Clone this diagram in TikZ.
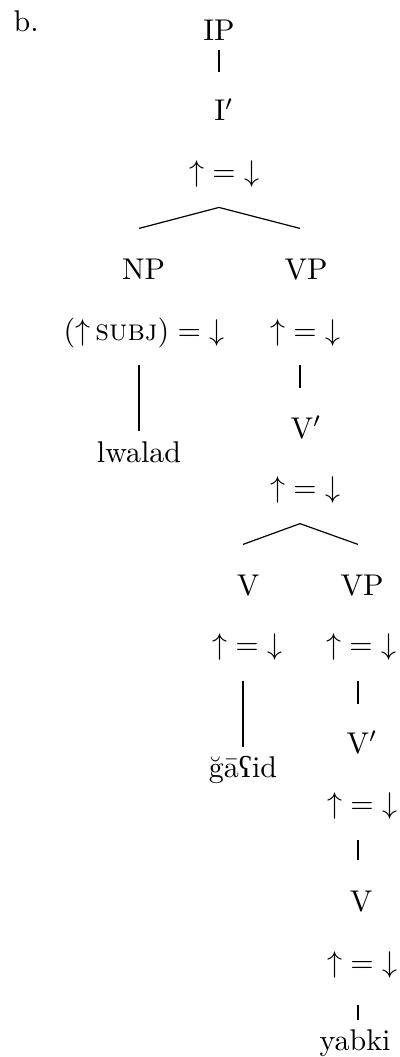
\documentclass[tikz,border=0pt]{standalone}
\usepackage{fontspec}
\newfontfamily\ipafont{Liberation Serif}
\usetikzlibrary{calc}
\newcommand\updn{${\uparrow}={\downarrow}$}
\begin{document}
\begin{tikzpicture}[x=0.33333pt,y=-0.33333pt,
  lbl/.style={anchor=base, inner sep=3.3333pt},
  edge/.style={line width=0.4pt}]
\useasboundingbox (0,0) rectangle (400,1057);
% labels
\node[anchor=base west, inner sep=0pt] (ex) at (13,32) {b.};
\node[lbl] (ip) at (219,41) {IP};
\node[lbl] (ibar) at (224,121) {I$'$};
\node[lbl] (ibarann) at (224,182) {\updn};
\node[lbl] (np) at (143.5,280) {NP};
\node[lbl] (npann) at (144,340) {$({\uparrow}\,\textsc{subj}) = {\downarrow}$};
\node[lbl] (vp) at (306,280) {VP};
\node[lbl] (vpann) at (305,340) {\updn};
\node[lbl] (lwalad) at (139,462) {lwalad};
\node[lbl] (vbar) at (306,438) {V$'$};
\node[lbl] (vbarann) at (305,497) {\updn};
\node[lbl] (v) at (248,595) {V};
\node[lbl] (vann) at (247,654) {\updn};
\node[lbl] (vp2) at (362,595) {VP};
\node[lbl] (vp2ann) at (361,654) {\updn};
\node[lbl] (gaid) at (243,777) {ğā{\ipafont ʕ}id};
\node[lbl] (vbar2) at (362,753) {V$'$};
\node[lbl] (vbar2ann) at (362,813) {\updn};
\node[lbl] (v2) at (361,911) {V};
\node[lbl] (v2ann) at (362,972) {\updn};
\node[lbl] (yabki) at (355,1050) {yabki};
% connectors
\draw[edge] ($(ip.south)+(0,-2)$) -- ($(ibar.north)+(-5,-16)$);
\coordinate (apex1) at ($(ibarann.south)+(-5,9)$);
\draw[edge] ($(np.north)+(-4.5,-20.5)$) -- (apex1) -- ($(vp.north)+(-6,-20.5)$);
\draw[edge] ($(npann.south)+(-5,6.5)$) -- ($(lwalad.north)+(0,0.8)$);
\draw[edge] ($(vpann.south)+(-5,8.2)$) -- ($(vbar.north)+(-6,-17)$);
\coordinate (apex2) at ($(vbarann.south)+(-5,10.2)$);
\draw[edge] ($(v.north)+(-5,-19.5)$) -- (apex2) -- ($(vp2.north)+(-4,-19.5)$);
\draw[edge] ($(vann.south)+(-4,10.2)$) -- ($(gaid.north)+(0,2)$);
\draw[edge] ($(vp2ann.south)+(-3,10.2)$) -- ($(vbar2.north)+(-4,-16)$);
\draw[edge] ($(vbar2ann.south)+(-4,11)$) -- ($(v2.north)+(-3,-19.5)$);
\draw[edge] ($(v2ann.south)+(-4,17)$) -- ($(yabki.north)+(3,1)$);
\end{tikzpicture}
\end{document}
